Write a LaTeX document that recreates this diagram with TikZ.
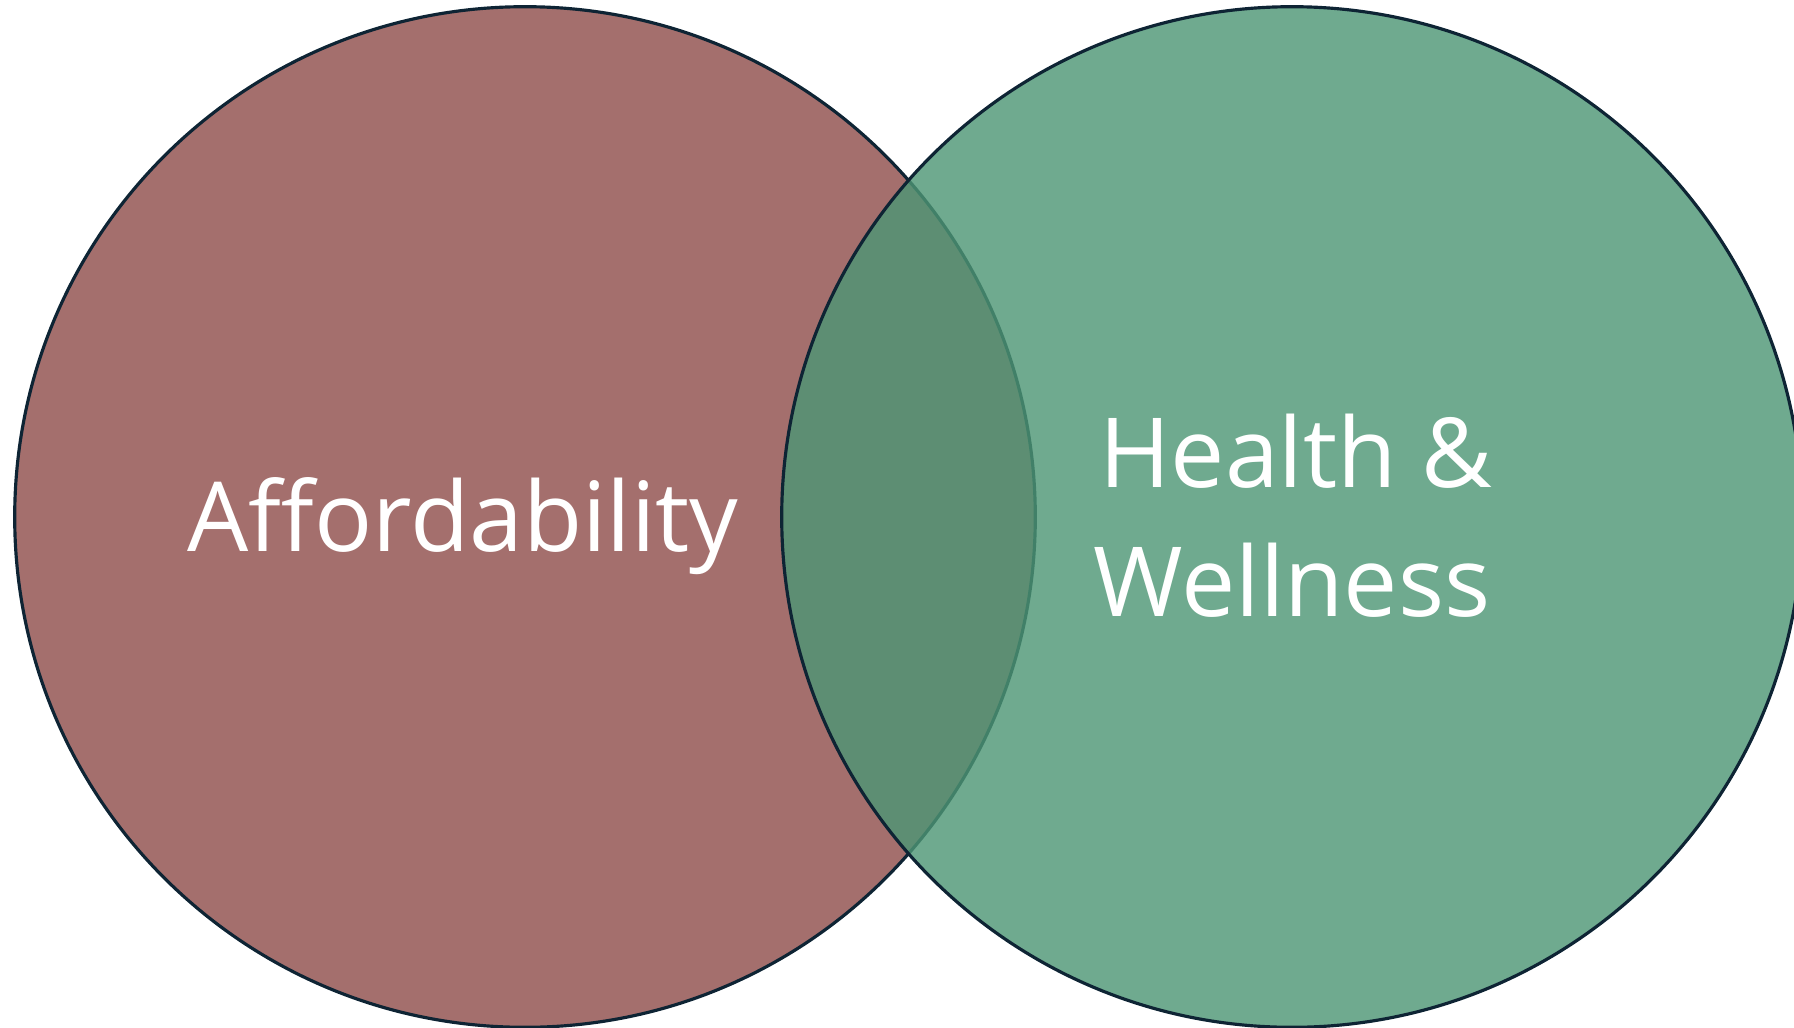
\documentclass[tikz,border=0pt]{standalone}
\usepackage{fontspec}
\setmainfont{Open Sans}
\usetikzlibrary{positioning}

\definecolor{roseFill}{HTML}{A46F6D}
\definecolor{sageFill}{HTML}{4D9675}
\definecolor{inkLine}{HTML}{0E2434}

\begin{document}
\begin{tikzpicture}[x=0.01cm, y=-0.01cm,
rosecircle/.style={circle, draw=inkLine, fill=roseFill, line width=0.9pt, minimum size=10.2cm, inner sep=0pt},
sagecircle/.style={circle, draw=inkLine, fill=sageFill, fill opacity=0.81, draw opacity=1, line width=0.9pt, minimum size=10.2cm, inner sep=0pt},
vennlabel/.style={text=white, font=\fontsize{27.5}{36}\selectfont, anchor=base, inner sep=0pt},
]
\useasboundingbox (0,0) rectangle (1794,1027);

%Circles
\node[rosecircle](afford) at (525,517){};
\node[sagecircle](health) at (1292,517){};

%Labels
\node[vennlabel](affordtxt) at (463,551){Affordability};
\node[vennlabel](healthtxt) at (1296,487){Health \&};
\node[vennlabel](welltxt) at (1292,616){Wellness};

\end{tikzpicture}
\end{document}
